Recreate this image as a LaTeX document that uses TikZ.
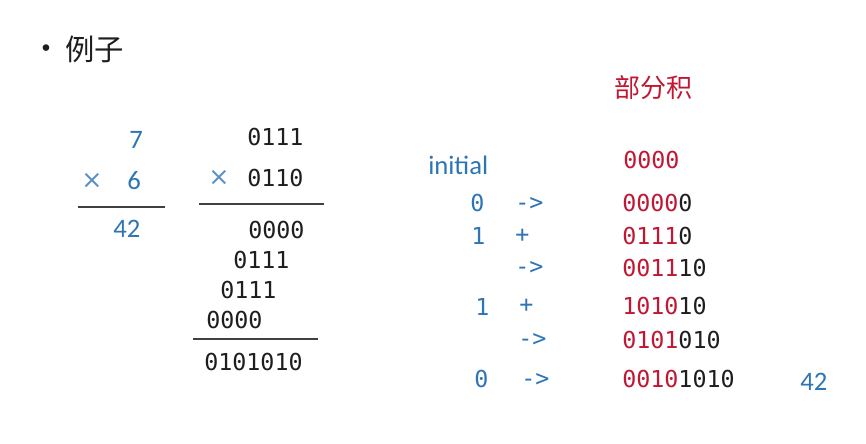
\documentclass[tikz,border=0pt]{standalone}
\usepackage{fontspec}
\setmainfont{Carlito}
\newfontfamily\cjk{Noto Sans CJK SC}
\newfontfamily\monof{DejaVu Sans Mono}
\newfontfamily\symf{DejaVu Sans}
\definecolor{tblue}{RGB}{46,117,182}
\definecolor{tred}{RGB}{192,24,52}
\definecolor{tblack}{RGB}{30,30,30}
\tikzset{
  mono/.style={anchor=west,inner sep=0pt,font=\monof\fontsize{17.5}{19}\selectfont,text=tblack},
  bmono/.style={mono,text=tblue},
  bsans/.style={anchor=west,inner sep=0pt,font=\fontsize{20}{22}\selectfont,text=tblue},
  times/.style={anchor=west,inner sep=0pt,font=\symf\fontsize{19}{21}\selectfont,text=tblue!80},
  rule/.style={line width=0.9pt,draw=black!75},
}
\begin{document}
\begin{tikzpicture}[x=0.75pt,y=-0.75pt]
\useasboundingbox (0,0) rectangle (866,443);
% title
\node[anchor=west,inner sep=0pt,font=\symf\fontsize{17}{19}\selectfont,text=tblack] (bul) at (39,51) {•};
\node[anchor=west,inner sep=0pt,font=\cjk\fontsize{22}{24}\selectfont,text=tblack] (title) at (65,49) {例子};
\node[anchor=west,inner sep=0pt,font=\cjk\fontsize{19.5}{21}\selectfont,text=tred] (pp) at (614,88) {部分积};
% decimal
\node[bsans] (d7) at (129,140) {7};
\node[times] (dx) at (81,181) {×};
\node[bsans] (d6) at (127,181) {6};
\node[bsans] (d42) at (113,229) {42};
\coordinate (l1a) at (78,207); \coordinate (l1b) at (165,207);
\draw[rule] (l1a) -- (l1b);
% binary
\node[mono] (b1) at (247,137) {0111};
\node[times] (bx) at (208,178) {×};
\node[mono] (b2) at (247,178) {0110};
\coordinate (l2a) at (199,204); \coordinate (l2b) at (324,204);
\draw[rule] (l2a) -- (l2b);
\node[mono] (p1) at (248,230) {0000};
\node[mono] (p2) at (233,260) {0111};
\node[mono] (p3) at (220,290) {0111};
\node[mono] (p4) at (206,320) {0000};
\coordinate (l3a) at (193,339); \coordinate (l3b) at (318,339);
\draw[rule] (l3a) -- (l3b);
\node[mono] (res) at (204,362) {0101010};
% right side
\node[bsans] (init) at (428,165) {initial};
\node[mono] (r0) at (623,160) {\color{tred}0000};
\node[bmono] (s1a) at (470,203) {0};
\node[bmono] (s1b) at (515,204) {->};
\node[mono] (r1) at (622,203) {{\color{tred}0000}0};
\node[bmono] (s2a) at (471,236) {1};
\node[bmono] (s2b) at (515,236) {+};
\node[mono] (r2) at (622,236) {{\color{tred}0111}0};
\node[bmono] (s3b) at (515,268) {->};
\node[mono] (r3) at (622,268) {{\color{tred}0011}10};
\node[bmono] (s4a) at (475,307) {1};
\node[bmono] (s4b) at (519,306) {+};
\node[mono] (r4) at (622,306) {{\color{tred}1010}10};
\node[bmono] (s5b) at (518,340) {->};
\node[mono] (r5) at (622,340) {{\color{tred}0101}010};
\node[bmono] (s6a) at (474,379) {0};
\node[bmono] (s6b) at (521,380) {->};
\node[mono] (r6) at (622,379) {{\color{tred}0010}1010};
\node[bsans] (f42) at (800,382) {42};
\end{tikzpicture}
\end{document}
